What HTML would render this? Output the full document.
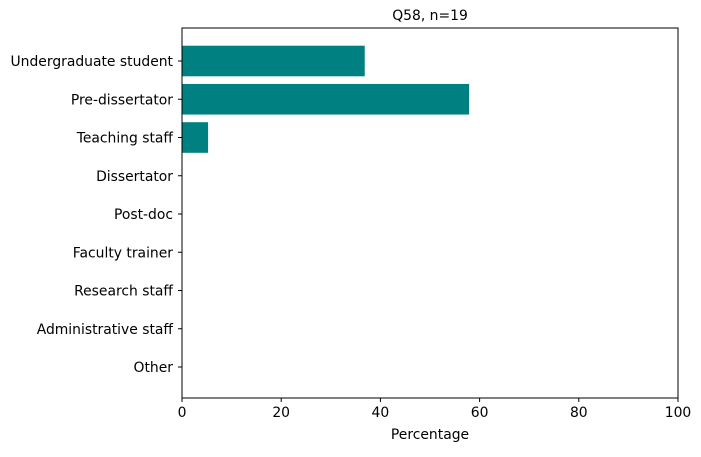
<!DOCTYPE html>
<html><head><meta charset="utf-8"><style>
body{margin:0;background:#fff;}
svg text{font-family:"DejaVu Sans","Liberation Sans",sans-serif;font-size:13.9px;fill:#000;}
</style></head><body>
<svg id="chart" width="701" height="452"></svg>
<script>
const categories=["Undergraduate student","Pre-dissertator","Teaching staff","Dissertator","Post-doc","Faculty trainer","Research staff","Administrative staff","Other"];
const values=[36.84,57.89,5.26,0,0,0,0,0,0];
const xTicks=[0,20,40,60,80,100];
const L=182,R=678,T=28,B=398;
const ns="http://www.w3.org/2000/svg";
const svg=document.getElementById('chart');
function xs(v){return L+(v/100)*(R-L);}
const step=38.25;
function ys(i){return 61+i*step;}
function el(tag,attrs,txt){const e=document.createElementNS(ns,tag);for(const k in attrs)e.setAttribute(k,attrs[k]);if(txt!==undefined)e.textContent=txt;svg.appendChild(e);return e;}
values.forEach((v,i)=>{
 const h=step*0.8;
 const r=el('rect',{x:xs(0),y:ys(i)-h/2,width:xs(v)-xs(0),height:h,fill:'#008080'});
 
 
 el('line',{x1:L-4,x2:L,y1:ys(i),y2:ys(i),stroke:'#000','stroke-width':1});
 const t=el('text',{x:L-9,y:ys(i)+5,'text-anchor':'end'},categories[i]);
 
 
});
xTicks.forEach(v=>{
 el('line',{x1:xs(v),x2:xs(v),y1:B,y2:B+4,stroke:'#000','stroke-width':1});
 const t=el('text',{x:xs(v),y:B+19,'text-anchor':'middle'},String(v));
 
 
});
const f=el('rect',{x:L,y:T,width:R-L,height:B-T,fill:'none',stroke:'#000','stroke-width':1});


const ti=el('text',{x:(L+R)/2,y:20,'text-anchor':'middle'},'Q58, n=19');


const xl=el('text',{x:(L+R)/2,y:439,'text-anchor':'middle'},'Percentage');


</script>
</body></html>
